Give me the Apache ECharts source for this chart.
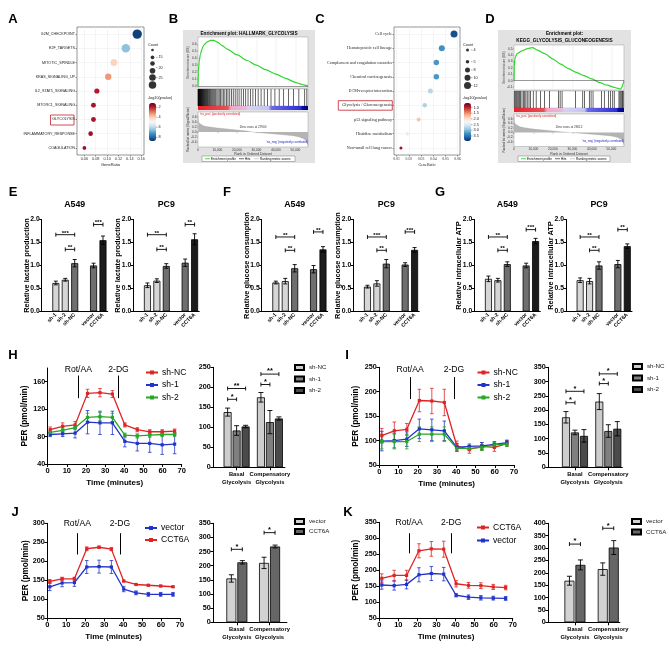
<!DOCTYPE html>
<html>
<head>
<meta charset="utf-8">
<script src="https://cdn.jsdelivr.net/npm/echarts@6.0.0/dist/echarts.min.js"></script>
<style>
html,body{margin:0;padding:0;background:#fff;}
#chart{width:669px;height:658px;}
</style>
</head>
<body>
<div id="chart"></div>
<script>
/* ======================= DATA ======================= */
// Panel A - Hallmark dot plot
const A_terms = ['G2M_CHECKPOINT','E2F_TARGETS','MITOTIC_SPINDLE','KRAS_SIGNALING_UP','IL2_STAT5_SIGNALING','MTORC1_SIGNALING','GLYCOLYSIS','INFLAMMATORY_RESPONSE','COAGULATION'];
const A_geneRatio = [0.153,0.133,0.112,0.102,0.082,0.076,0.076,0.071,0.060];
const A_count = [28,25,20,18,14,13,13,12,9];
const A_logP = [8.5,6.5,4.1,3.3,1.9,1.8,1.8,1.7,1.6];
const A_xTicks = [0.06,0.08,0.10,0.12,0.14,0.16];
const A_cbTicks = [2,4,6,8];
const A_countCircles = [8,12,16,20,24,28];
const A_countLabels = [15,20,25];

// Panel C - KEGG dot plot
const C_terms = ['Cell cycle','Hematopoietic cell lineage','Complement and coagulation cascades','Chemical carcinogenesis','ECM-receptor interaction','Glycolysis / Gluconeogenesis','p53 signaling pathway','Histidine metabolism','Non-small cell lung cancer'];
const C_geneRatio = [0.057,0.047,0.0425,0.0425,0.0376,0.033,0.028,0.0187,0.0135];
const C_count = [12,10,9,9,8,7,6,5,4];
const C_logP = [3.75,3.3,3.25,3.25,2.75,2.8,1.8,2.45,0.85];
const C_xTicks = [0.01,0.02,0.03,0.04,0.05,0.06];
const C_cbTicks = [1.0,1.5,2.0,2.5,3.0,3.5];
const C_countLegend = [4,5,8,10,12];

// Panels B / D - GSEA
const RANK_MAX = 56500;
const RANK_TICKS = [0,10000,20000,30000,40000,50000];
const B_esRank = [0,200,600,1200,2000,3000,4500,6500,8000,10000,12500,15000,20000,25000,30000,35000,40000,45000,50000,53000,55000,56500];
const B_esVal  = [0,0.2,0.35,0.45,0.53,0.59,0.63,0.655,0.655,0.63,0.58,0.53,0.45,0.37,0.30,0.23,0.17,0.11,0.05,0.025,0.01,0];
const B_hits = [60,150,260,380,500,640,780,930,1080,1240,1400,1570,1750,1930,2120,2320,2530,2750,2980,3220,3470,3730,4000,4280,4570,4870,5200,5550,5900,6300,6700,7150,7600,8100,8600,9100,9700,10300,10900,11600,12300,13000,13800,14600,15400,16300,17200,18100,19100,20100,21100,22200,23300,24500,25700,26900,28200,29500,30900,32400,34000,35700,37500,39500,41700,44000,46500,49000,51800,54800,55900];
const B_metricRank = [0,200,600,1500,3000,6000,10000,15000,20000,25000,27900,32000,38000,44000,49000,52000,54500,55800,56500];
const B_metricVal  = [0.7,0.45,0.35,0.28,0.24,0.2,0.16,0.12,0.08,0.04,0,-0.03,-0.07,-0.11,-0.15,-0.2,-0.28,-0.38,-0.55];
const D_esRank = [0,150,400,800,1500,2500,3500,5000,6500,8000,9500,12000,16000,20000,24000,28000,32000,36000,40000,44000,48000,51000,53500,54800,55500,56000,56500];
const D_esVal  = [0,0.22,0.33,0.38,0.42,0.44,0.46,0.48,0.50,0.51,0.52,0.48,0.42,0.34,0.26,0.19,0.13,0.08,0.03,-0.03,-0.07,-0.1,-0.12,-0.13,-0.1,-0.05,0];
const D_hits = [340,680,1200,1700,2400,2900,3400,4100,4800,5500,6100,6800,7700,8500,9900,11400,13600,15700,18300,22900,23700,24700,31600,35300,36200,38700,39600,40600,45000,46400,48500,49500,50700,51500,53900,54400,54900,55400,55800,56100];
const D_metricRank = [0,150,500,1500,3000,6000,10000,15000,20000,25000,29000,34000,40000,46000,50000,53000,55000,56000,56500];
const D_metricVal  = [0.75,0.5,0.38,0.3,0.25,0.2,0.15,0.11,0.07,0.03,0,-0.03,-0.07,-0.11,-0.15,-0.2,-0.28,-0.4,-0.55];

// Panels E / F / G - bar charts
const EFG_groups = ['sh-1','sh-2','sh-NC','vector','CCT6A'];
const E_A549 = [0.62,0.69,1.05,1.00,1.55];
const E_A549_err = [0.04,0.03,0.08,0.05,0.09];
const E_A549_sig = ['***','**','***'];
const E_A549_sigY = [1.67,1.35,1.89];
const E_PC9 = [0.57,0.67,0.99,1.06,1.57];
const E_PC9_err = [0.05,0.04,0.05,0.08,0.12];
const E_PC9_sig = ['**','**','**'];
const E_PC9_sigY = [1.67,1.35,1.89];
const F_A549 = [0.63,0.66,0.94,0.92,1.35];
const F_A549_err = [0.03,0.06,0.08,0.08,0.06];
const F_A549_sig = ['**','**','**'];
const F_A549_sigY = [1.62,1.33,1.73];
const F_PC9 = [0.54,0.61,1.04,1.02,1.34];
const F_PC9_err = [0.03,0.06,0.09,0.04,0.05];
const F_PC9_sig = ['***','**','***'];
const F_PC9_sigY = [1.62,1.33,1.73];
const G_A549 = [0.71,0.68,1.03,1.00,1.53];
const G_A549_err = [0.06,0.04,0.05,0.05,0.06];
const G_A549_sig = ['**','**','***'];
const G_A549_sigY = [1.62,1.33,1.78];
const G_PC9 = [0.68,0.66,1.00,1.03,1.42];
const G_PC9_err = [0.05,0.06,0.08,0.08,0.05];
const G_PC9_sig = ['**','**','**'];
const G_PC9_sigY = [1.62,1.33,1.78];

// Panels H-K - Seahorse PER
const SH_time = [1.3,7.8,14.3,20.8,27.3,33.8,40.3,46.8,53.3,59.8,66.3];
const SH_groups = ['Basal\nGlycolysis','Compensatory\nGlycolysis'];
const H_shNC = [90,95,97,143,144,142,97,90,87,87,88];
const H_shNC_err = [4,5,5,6,6,5,3,3,3,3,3];
const H_sh1 = [83,84,85,101,100,100,73,70,70,68,69];
const H_sh1_err = [3,4,7,17,17,17,8,11,13,14,14];
const H_sh2 = [86,89,93,108,109,108,82,81,82,83,83];
const H_sh2_err = [2,3,3,6,6,6,3,3,3,3,3];
const H_bar_shNC = [138,175], H_bar_shNC_err = [10,12];
const H_bar_sh1 = [92,113], H_bar_sh1_err = [12,29];
const H_bar_sh2 = [102,122], H_bar_sh2_err = [3,4];
const H_sig = ['*','**','*','**'];
const H_sigY = [170,197,207,233];

const I_shNC = [110,120,123,182,181,178,89,82,88,86,94];
const I_shNC_err = [15,18,12,23,26,27,10,8,8,8,6];
const I_sh1 = [99,100,103,124,122,120,86,88,89,92,96];
const I_sh1_err = [20,15,15,20,22,20,8,5,7,6,5];
const I_sh2 = [98,98,98,113,113,113,84,84,86,91,93];
const I_sh2_err = [15,15,15,15,15,15,6,5,6,5,5];
const I_bar_shNC = [175,230], I_bar_shNC_err = [20,28];
const I_bar_sh1 = [122,127], I_bar_sh1_err = [8,22];
const I_bar_sh2 = [110,135], I_bar_sh2_err = [22,25];
const I_sig = ['*','*','*','*'];
const I_sigY = [226,266,293,327];

const J_vector = [133,143,144,185,186,185,127,117,113,113,113];
const J_vector_err = [10,10,10,17,17,17,7,5,5,5,5];
const J_CCT6A = [147,154,154,233,237,232,148,139,137,135,133];
const J_CCT6A_err = [5,4,4,5,3,4,2,2,2,2,2];
const J_bar_vector = [155,210], J_bar_vector_err = [13,20];
const J_bar_CCT6A = [212,268], J_bar_CCT6A_err = [6,5];
const J_sig = ['*','*'];
const J_sigY = [258,317];

const K_CCT6A = [175,184,184,261,267,266,158,153,152,148,146];
const K_CCT6A_err = [14,16,16,22,23,25,10,9,9,8,7];
const K_vector = [154,152,156,186,190,188,122,116,114,113,112];
const K_vector_err = [13,14,14,22,22,21,5,7,7,6,6];
const K_bar_vector = [168,215], K_bar_vector_err = [18,25];
const K_bar_CCT6A = [232,302], K_bar_CCT6A_err = [20,28];
const K_sig = ['*','*'];
const K_sigY = [316,380];

/* ======================= BUILD ======================= */
const FONTF = '"Liberation Sans", Arial, Helvetica, sans-serif';
const SERIF = '"Liberation Serif", "Times New Roman", serif';
const RDBU = ['#67001f','#b2182b','#d6604d','#f4a582','#fddbc7','#f7f7f7','#d1e5f0','#92c5de','#4393c3','#2166ac','#053061'];
const RED = '#e02424', BLUE = '#2233cc', GREEN = '#25a825';

const option = {animation:false, backgroundColor:'#ffffff', textStyle:{fontFamily:FONTF},
  grid:[], xAxis:[], yAxis:[], series:[], legend:[], visualMap:[], graphic:{elements:[]}};
const GR = option.graphic.elements;

function addGrid(g, xa, ya){
  const gi = option.grid.length;
  option.grid.push(Object.assign({containLabel:false, outerBoundsMode:'none'}, g));
  option.xAxis.push(Object.assign({gridIndex:gi, nameMoveOverlap:false}, xa));
  option.yAxis.push(Object.assign({gridIndex:gi, nameMoveOverlap:false}, ya));
  return {g:gi, x:option.xAxis.length-1, y:option.yAxis.length-1};
}
function addXAxis(ax, xa){ option.xAxis.push(Object.assign({gridIndex:ax.g, nameMoveOverlap:false}, xa)); return option.xAxis.length-1; }
function addSeries(s, ax){ s.xAxisIndex = ax.x; s.yAxisIndex = ax.y; option.series.push(s); return option.series.length-1; }
function txt(x, y, text, o){
  o = o || {};
  GR.push({type:'text', x:x, y:y, rotation:o.rot||0, silent:true, z:o.z||50,
    style:{text:text, fill:o.color||'#000', font:(o.bold?'bold ':'')+(o.size||8)+'px '+(o.family||FONTF),
      textAlign:o.align||'center', textVerticalAlign:o.va||'middle'}});
}
function lineEl(x1,y1,x2,y2,color,w){ GR.push({type:'line', silent:true, z:50, shape:{x1,y1,x2,y2}, style:{stroke:color||'#000', lineWidth:w||0.5}}); }

function errRender(color, capHalf, lw, offFn){
  return function(params, api){
    const x = api.value(0), y = api.value(1), e = api.value(2);
    const off = offFn ? offFn(api.value(3)) : 0;
    const p1 = api.coord([x, y+e]), p2 = api.coord([x, y-e]);
    const cx = p1[0] + off;
    const st = () => ({stroke:color, lineWidth:lw});
    return {type:'group', children:[
      {type:'line', shape:{x1:cx, y1:p1[1], x2:cx, y2:p2[1]}, style:st()},
      {type:'line', shape:{x1:cx-capHalf, y1:p1[1], x2:cx+capHalf, y2:p1[1]}, style:st()},
      {type:'line', shape:{x1:cx-capHalf, y1:p2[1], x2:cx+capHalf, y2:p2[1]}, style:st()}
    ]};
  };
}
function bracketShape(x1, x2, y, label, fs){
  const s = () => ({stroke:'#000', lineWidth:0.9});
  return {type:'group', children:[
    {type:'line', shape:{x1:x1, y1:y, x2:x2, y2:y}, style:s()},
    {type:'line', shape:{x1:x1, y1:y-2, x2:x1, y2:y+2}, style:s()},
    {type:'line', shape:{x1:x2, y1:y-2, x2:x2, y2:y+2}, style:s()},
    {type:'text', style:{text:label, x:(x1+x2)/2, y:y+1.2, textAlign:'center', textVerticalAlign:'bottom', font:'bold '+fs+'px '+FONTF, fill:'#000'}}
  ]};
}

/* ---------- enrichment dot plots (A, C) ---------- */
function dotPlot(c){
  const ax = addGrid({left:c.left, top:27, width:c.width, height:128, show:true, borderColor:'#4d4d4d', borderWidth:0.6, backgroundColor:'#fff'},
    {type:'value', min:c.xmin, max:c.xmax, axisLine:{show:false},
     axisTick:{show:true, customValues:c.xTicks, length:1.5, lineStyle:{color:'#333', width:0.5}},
     axisLabel:{customValues:c.xTicks, formatter:v=>v.toFixed(2), fontSize:3.8, color:'#333', margin:2, fontFamily:c.font, showMinLabel:true, showMaxLabel:true, hideOverlap:false},
     splitLine:{show:false}, name:'GeneRatio', nameLocation:'middle', nameGap:8, nameTextStyle:{fontSize:4, color:'#222', fontFamily:c.font}},
    {type:'category', data:c.terms, inverse:true, axisLine:{show:false},
     axisTick:{show:true, alignWithLabel:true, length:1.5, lineStyle:{color:'#333', width:0.5}},
     axisLabel:{interval:0, fontSize:c.labelSize, color:'#222', margin:2, fontFamily:c.font}, splitLine:{show:false}});
  addSeries({type:'scatter', data:[], silent:true, z:1,
    markLine:{silent:true, symbol:'none', z:1, animation:false, label:{show:false},
      lineStyle:{color:'#ebebeb', width:0.5, type:'solid'},
      data:[...c.terms.map((t,i)=>({yAxis:i})), ...c.xTicks.map(v=>({xAxis:v}))]}}, ax);
  const si = addSeries({type:'scatter', z:5, data:c.terms.map((t,i)=>[c.ratio[i], i, c.count[i], c.logP[i]]),
    symbolSize:v=>c.size(v[2]), itemStyle:{opacity:1}}, ax);
  option.visualMap.push({type:'continuous', seriesIndex:si, dimension:3, min:c.vmin, max:c.vmax, inverse:true,
    calculable:false, show:true, left:c.cbLeft, top:103, itemWidth:7, itemHeight:38, padding:0,
    inRange:{color:RDBU}, hoverLink:false});
  const cbY = v => 103 + (v - c.vmin)/(c.vmax - c.vmin)*38;
  c.cbTicks.forEach(v=>{
    lineEl(c.cbLeft+7, cbY(v), c.cbLeft+8.5, cbY(v), '#333', 0.4);
    txt(c.cbLeft+9.5, cbY(v), c.cbFmt(v), {size:3.8, align:'left', color:'#222'});
  });
  txt(c.cbLeft-1, 98, '-log10(pvalue)', {size:3.8, align:'left', color:'#222'});
  txt(c.cbLeft-1, 44.5, 'Count', {size:3.8, align:'left', color:'#222'});
  c.countLegend(c);
  GR.push({type:'rect', silent:true, z:60, shape:c.box, style:{fill:'none', stroke:'#c0202a', lineWidth:0.8}});
}

dotPlot({left:77, width:67, xmin:0.047, xmax:0.165, xTicks:A_xTicks, terms:A_terms, ratio:A_geneRatio,
  count:A_count, logP:A_logP, size:n=>1+n*0.3, vmin:1.15, vmax:8.75, cbLeft:149, cbTicks:A_cbTicks,
  cbFmt:v=>String(v), font:FONTF, labelSize:3.7,
  box:{x:50.5, y:115, width:23.5, height:10},
  countLegend:function(c){
    const ys = [50,57.3,63.5,70.7,77.5,85];
    A_countCircles.forEach((n,k)=>GR.push({type:'circle', silent:true, z:50, shape:{cx:152.5, cy:ys[k], r:c.size(n)/2*0.8}, style:{fill:'#333'}}));
    const ly = [57.3,67.5,77.5];
    A_countLabels.forEach((n,k)=>{ lineEl(156,ly[k],157.5,ly[k],'#333',0.4); txt(158.5, ly[k], String(n), {size:3.8, align:'left', color:'#222'}); });
  }});

dotPlot({left:394, width:66, xmin:0.0078, xmax:0.0619, xTicks:C_xTicks, terms:C_terms, ratio:C_geneRatio,
  count:C_count, logP:C_logP, size:n=>1+n*0.5, vmin:0.6, vmax:3.95, cbLeft:464, cbTicks:C_cbTicks,
  cbFmt:v=>v.toFixed(1), font:SERIF, labelSize:4.2,
  box:{x:338.3, y:100.7, width:54, height:9.5},
  countLegend:function(c){
    const ys = [50,61.7,70,77.7,85.5];
    C_countLegend.forEach((n,k)=>{
      GR.push({type:'circle', silent:true, z:50, shape:{cx:467.5, cy:ys[k], r:c.size(n)/2}, style:{fill:'#333'}});
      lineEl(471,ys[k],472.5,ys[k],'#333',0.4);
      txt(473.5, ys[k], String(n), {size:3.8, align:'left', color:'#222'});
    });
  }});

/* ---------- GSEA plots (B, D) ---------- */
function gsea(c){
  GR.push({type:'rect', silent:true, z:-5, shape:{x:c.fx, y:c.fy, width:c.fw, height:c.fh}, style:{fill:'#e2e2e2'}});
  c.title.forEach((t,k)=>txt(c.fx+c.fw/2, c.titleY+k*7, t, {size:4.7, bold:true}));
  const tl = {fontSize:3.2, color:'#333', margin:1.5, fontFamily:FONTF, showMinLabel:true, showMaxLabel:true, hideOverlap:false};
  const a1 = addGrid({left:c.left, top:c.esTop, width:c.width, height:c.esH, show:true, backgroundColor:'#fff', borderColor:'#888', borderWidth:0.4},
    {type:'value', min:0, max:RANK_MAX, interval:10000, axisLine:{show:false}, axisTick:{show:false}, axisLabel:{show:false},
     splitLine:{show:true, lineStyle:{color:'#dedede', width:0.4}}},
    {type:'value', min:c.esMin, max:c.esMax, axisLine:{show:false},
     axisTick:{show:true, customValues:c.esTicks, length:1.2, lineStyle:{color:'#555', width:0.4}},
     axisLabel:Object.assign({customValues:c.esTicks, formatter:v=>v.toFixed(1)}, tl), splitLine:{show:false},
     name:'Enrichment score (ES)', nameLocation:'middle', nameGap:8, nameTextStyle:{fontSize:3.2, color:'#333'}});
  addSeries({type:'line', data:c.esRank.map((r,i)=>[r, c.esVal[i]]), symbol:'none', smooth:0.25, smoothMonotone:'x',
    lineStyle:{color:'#2fd42f', width:1.2}, z:3,
    markLine:{silent:true, symbol:'none', label:{show:false}, lineStyle:{color:'#333', width:0.5, type:'solid'}, data:[{yAxis:0}]}}, a1);
  const a2 = addGrid({left:c.left, top:c.hitTop, width:c.width, height:c.hitH, show:true, backgroundColor:'#fff', borderColor:'#888', borderWidth:0.4},
    {type:'value', min:0, max:RANK_MAX, show:false}, {type:'value', min:0, max:1, show:false});
  addSeries({type:'scatter', data:c.hits.map(r=>[r,0.5]), symbol:'rect', symbolSize:[0.75, c.hitH], itemStyle:{color:'#000'}, silent:true}, a2);
  GR.push({type:'rect', silent:true, z:40, shape:{x:c.left, y:c.hitTop+c.hitH, width:c.width, height:4},
    style:{fill:{type:'linear', x:0, y:0, x2:1, y2:0, colorStops:[
      {offset:0, color:'#e8202a'},{offset:0.27, color:'#e8505a'},{offset:0.3, color:'#f0a8c4'},{offset:0.43, color:'#eab6d8'},
      {offset:0.46, color:'#d6d2f2'},{offset:0.64, color:'#c4c4f2'},{offset:0.67, color:'#6868e8'},{offset:0.93, color:'#3030d8'},
      {offset:0.95, color:'#0a0aa0'},{offset:1, color:'#00007a'}]}}});
  const a3 = addGrid({left:c.left, top:c.mTop, width:c.width, height:c.mH, show:true, backgroundColor:'#fff', borderColor:'#888', borderWidth:0.4},
    {type:'value', min:0, max:RANK_MAX, axisLine:{show:false},
     axisTick:{show:true, customValues:RANK_TICKS, length:1.2, lineStyle:{color:'#555', width:0.4}},
     axisLabel:Object.assign({customValues:RANK_TICKS, formatter:v=>v.toLocaleString('en-US')}, tl), splitLine:{show:false},
     name:'Rank in Ordered Dataset', nameLocation:'middle', nameGap:6, nameTextStyle:{fontSize:3.4, color:'#333'}},
    {type:'value', min:-0.6, max:0.8, axisLine:{show:false},
     axisTick:{show:true, customValues:[-0.4,-0.2,0,0.2,0.4,0.6], length:1.2, lineStyle:{color:'#555', width:0.4}},
     axisLabel:Object.assign({customValues:[-0.4,-0.2,0,0.2,0.4,0.6], formatter:v=>v.toFixed(1)}, tl), splitLine:{show:false},
     name:'Ranked list metric (Signal2Noise)', nameLocation:'middle', nameGap:8, nameTextStyle:{fontSize:3, color:'#333'}});
  addSeries({type:'line', data:c.mRank.map((r,i)=>[r, c.mVal[i]]), symbol:'none', lineStyle:{color:'#999', width:0.3},
    areaStyle:{color:'#b4b4b4', opacity:1, origin:0}, silent:true}, a3);
  txt(c.left+2, c.mTop+1.8, "'na_pos' (positively correlated)", {size:3, align:'left', color:'#e02020'});
  txt(c.left+c.width*0.5, c.mTop+c.mH*0.42, 'Zero cross at '+c.zero, {size:3, color:'#333'});
  txt(c.left+c.width*0.62, c.mTop+c.mH*0.85, "'na_neg' (negatively correlated)", {size:3, align:'left', color:'#2020c0'});
  GR.push({type:'rect', silent:true, z:45, shape:c.legBox, style:{fill:'#fff', stroke:'#555', lineWidth:0.4}});
  const ly = c.legBox.y + c.legBox.height/2, lx = c.legBox.x;
  lineEl(lx+3, ly, lx+8, ly, '#2fd42f', 0.9); txt(lx+9, ly, 'Enrichment profile', {size:3.1, align:'left'});
  lineEl(lx+37, ly, lx+42, ly, '#000', 0.6); txt(lx+43, ly, 'Hits', {size:3.1, align:'left'});
  lineEl(lx+52, ly, lx+57, ly, '#aaa', 0.6); txt(lx+58, ly, 'Ranking metric scores', {size:3.1, align:'left'});
}
gsea({fx:183, fy:30, fw:132, fh:133, title:['Enrichment plot: HALLMARK_GLYCOLYSIS'], titleY:33.5,
  left:198, width:110, esTop:37, esH:51, esMin:-0.03, esMax:0.705, esTicks:[0,0.1,0.2,0.3,0.4,0.5,0.6],
  esRank:B_esRank, esVal:B_esVal, hitTop:89, hitH:17, hits:B_hits, mTop:112, mH:35,
  mRank:B_metricRank, mVal:B_metricVal, zero:'27900', legBox:{x:202, y:156, width:93, height:5.5}});
gsea({fx:498, fy:30, fw:133, fh:133, title:['Enrichment plot:','KEGG_GLYCOLYSIS_GLUCONEOGENESIS'], titleY:33.5,
  left:514, width:110, esTop:45, esH:45, esMin:-0.145, esMax:0.56, esTicks:[-0.1,0,0.1,0.2,0.3,0.4,0.5],
  esRank:D_esRank, esVal:D_esVal, hitTop:91, hitH:17, hits:D_hits, mTop:114, mH:32.5,
  mRank:D_metricRank, mVal:D_metricVal, zero:'29012', legBox:{x:518, y:156, width:92, height:5.5}});

/* ---------- E / F / G bar charts ---------- */
const EFG_cats = [' ','sh-1','sh-2','sh-NC','  ','vector','CCT6A'];
const EFG_pos = [1,2,3,5,6];
const EFG_colors = ['#d6d6d6','#d6d6d6','#6f6f6f','#6f6f6f','#1c1c1c'];
function efg(c){
  const ax = addGrid({left:c.left, top:219.5, width:66, height:92},
    {type:'category', data:EFG_cats,
     axisLine:{lineStyle:{color:'#000', width:1}},
     axisTick:{alignWithLabel:true, length:2.5, interval:(i,v)=>String(v).trim()!=='', lineStyle:{color:'#000', width:1}},
     axisLabel:{interval:0, rotate:45, fontSize:5.3, fontWeight:'bold', color:'#000', margin:2.5, fontFamily:FONTF}},
    {type:'value', min:0, max:2, interval:0.5,
     axisLine:{show:true, lineStyle:{color:'#000', width:1}},
     axisTick:{show:true, length:2.5, lineStyle:{color:'#000', width:1}},
     axisLabel:{formatter:v=>v.toFixed(1), fontSize:6.8, fontWeight:'bold', color:'#000', margin:2, fontFamily:FONTF},
     splitLine:{show:false}, name:c.ylabel, nameLocation:'middle', nameGap:11.5,
     nameTextStyle:{fontSize:7.4, fontWeight:'bold', color:'#000', fontFamily:FONTF}});
  addSeries({type:'bar', barWidth:7, z:2,
    data:EFG_cats.map((cat,ci)=>{ const k = EFG_pos.indexOf(ci); return k<0 ? '-' : {value:c.vals[k], itemStyle:{color:EFG_colors[k]}}; }),
    itemStyle:{borderColor:'#000', borderWidth:0.8}}, ax);
  addSeries({type:'custom', z:3, renderItem:errRender('#000', 2, 0.9),
    data:EFG_pos.map((p,k)=>[p, c.vals[k], c.errs[k]])}, ax);
  const pairs = [[1,3],[2,3],[5,6]];
  addSeries({type:'custom', z:4, encode:{x:[0,1], y:2},
    renderItem:(params, api)=>{ const h = api.value(2); const a = api.coord([api.value(0), h]), b = api.coord([api.value(1), h]);
      return bracketShape(a[0], b[0], a[1], c.sig[params.dataIndex], 6); },
    data:pairs.map((p,k)=>[p[0], p[1], c.sigY[k]])}, ax);
  txt(c.left+33, 205, c.title, {size:8.8, bold:true});
}
efg({left:41.7, title:'A549', vals:E_A549, errs:E_A549_err, sig:E_A549_sig, sigY:E_A549_sigY, ylabel:'Relative lactate production'});
efg({left:133.3, title:'PC9', vals:E_PC9, errs:E_PC9_err, sig:E_PC9_sig, sigY:E_PC9_sigY, ylabel:'Relative lactate production'});
efg({left:261.7, title:'A549', vals:F_A549, errs:F_A549_err, sig:F_A549_sig, sigY:F_A549_sigY, ylabel:'Relative glucose consumption'});
efg({left:353.3, title:'PC9', vals:F_PC9, errs:F_PC9_err, sig:F_PC9_sig, sigY:F_PC9_sigY, ylabel:'Relative glucose consumption'});
efg({left:474.3, title:'A549', vals:G_A549, errs:G_A549_err, sig:G_A549_sig, sigY:G_A549_sigY, ylabel:'Relative intracellular ATP'});
efg({left:566, title:'PC9', vals:G_PC9, errs:G_PC9_err, sig:G_PC9_sig, sigY:G_PC9_sigY, ylabel:'Relative intracellular ATP'});

/* ---------- Seahorse line charts ---------- */
const axBlack = {lineStyle:{color:'#000', width:1}};
function shLine(c){
  const ax = addGrid({left:c.left, top:c.top, width:c.width, height:c.height},
    {type:'value', min:0, max:70, interval:10, axisLine:axBlack, axisTick:{length:3, lineStyle:{color:'#000', width:1}},
     axisLabel:{fontSize:7.5, fontWeight:'bold', color:'#000', margin:2.5, fontFamily:FONTF, showMinLabel:true, showMaxLabel:true}, splitLine:{show:false},
     name:'Time (minutes)', nameLocation:'middle', nameGap:14.5, nameTextStyle:{fontSize:8, fontWeight:'bold', color:'#000', fontFamily:FONTF}},
    {type:'value', min:c.ymin, max:c.ymax, axisLine:Object.assign({show:true}, axBlack),
     axisTick:{show:true, customValues:c.yTicks, length:3, lineStyle:{color:'#000', width:1}},
     axisLabel:{customValues:c.yTicks, fontSize:7.2, fontWeight:'bold', color:'#000', margin:2.5, fontFamily:FONTF, showMinLabel:true, showMaxLabel:true, hideOverlap:false}, splitLine:{show:false},
     name:'PER (pmol/min)', nameLocation:'middle', nameGap:c.nameGap, nameTextStyle:{fontSize:8.2, fontWeight:'bold', color:'#000', fontFamily:FONTF}});
  c.lines.forEach((l, k)=>{
    addSeries({type:'custom', z:2, silent:true, renderItem:errRender(l.color, 1.8, 0.8),
      data:SH_time.map((t,i)=>[t, l.vals[i], l.errs[i]])}, ax);
    const s = {type:'line', name:c.key+'|'+l.name, data:SH_time.map((t,i)=>[t, l.vals[i]]), symbol:'rect', symbolSize:3.2,
      lineStyle:{color:l.color, width:1.3}, itemStyle:{color:l.color}, z:3};
    if (k === 0) {
      s.markLine = {silent:true, symbol:['none','arrow'], symbolSize:[0,5], precision:2,
        lineStyle:{color:'#000', width:1, type:'solid'},
        label:{show:true, position:'start', formatter:p=>p.name, fontSize:8.6, color:'#000', distance:c.arrowGap, fontFamily:FONTF},
        data:c.arrows.map(a=>[{name:a.label, coord:[a.t, a.from]}, {coord:[a.t, a.to]}])};
    }
    addSeries(s, ax);
  });
  option.legend.push({data:c.legendOrder.map(n=>c.key+'|'+n), left:c.legLeft, top:c.legTop, orient:'vertical', padding:0,
    itemGap:c.legGap, itemWidth:12, itemHeight:5, selectedMode:false, formatter:n=>n.split('|')[1],
    textStyle:{fontSize:8.6, color:'#000', fontFamily:FONTF, lineHeight:10, padding:[0,0,0,-1]}});
}
shLine({key:'H', left:47.7, top:368, width:134, height:96, ymin:40, ymax:180, yTicks:[40,80,120,160], nameGap:18.5,
  lines:[{name:'sh-NC', color:RED, vals:H_shNC, errs:H_shNC_err},{name:'sh-1', color:BLUE, vals:H_sh1, errs:H_sh1_err},{name:'sh-2', color:GREEN, vals:H_sh2, errs:H_sh2_err}],
  arrows:[{label:'Rot/AA', t:16, from:169, to:136},{label:'2-DG', t:37, from:169, to:136}], arrowGap:1.5,
  legendOrder:['sh-NC','sh-1','sh-2'], legLeft:145, legTop:367.5, legGap:2.5});
shLine({key:'I', left:379.3, top:367.3, width:134.7, height:97.7, ymin:50, ymax:250, yTicks:[50,100,150,200,250], nameGap:20,
  lines:[{name:'sh-NC', color:RED, vals:I_shNC, errs:I_shNC_err},{name:'sh-1', color:BLUE, vals:I_sh1, errs:I_sh1_err},{name:'sh-2', color:GREEN, vals:I_sh2, errs:I_sh2_err}],
  arrows:[{label:'Rot/AA', t:16, from:230, to:185},{label:'2-DG', t:38.8, from:230, to:185}], arrowGap:3,
  legendOrder:['sh-NC','sh-1','sh-2'], legLeft:476.5, legTop:367.5, legGap:2.5});
shLine({key:'J', left:47.3, top:523.3, width:132.7, height:95, ymin:50, ymax:300, yTicks:[50,100,150,200,250,300], nameGap:18,
  lines:[{name:'vector', color:BLUE, vals:J_vector, errs:J_vector_err},{name:'CCT6A', color:RED, vals:J_CCT6A, errs:J_CCT6A_err}],
  arrows:[{label:'Rot/AA', t:15.8, from:274, to:218},{label:'2-DG', t:38.3, from:274, to:218}], arrowGap:5.5,
  legendOrder:['vector','CCT6A'], legLeft:144, legTop:523, legGap:2});
shLine({key:'K', left:379.3, top:522.3, width:133.4, height:96, ymin:50, ymax:350, yTicks:[50,100,150,200,250,300,350], nameGap:20,
  lines:[{name:'CCT6A', color:RED, vals:K_CCT6A, errs:K_CCT6A_err},{name:'vector', color:BLUE, vals:K_vector, errs:K_vector_err}],
  arrows:[{label:'Rot/AA', t:15.7, from:316, to:253},{label:'2-DG', t:37.7, from:316, to:253}], arrowGap:6.5,
  legendOrder:['CCT6A','vector'], legLeft:476, legTop:522.5, legGap:3});

/* ---------- Seahorse bar charts ---------- */
function shBar(c){
  const lab = v => ({customValues:[v], formatter:x=>SH_groups[Math.round(x)-1], fontSize:5.8, fontWeight:'bold', color:'#000',
       lineHeight:8, margin:3.5, fontFamily:FONTF, showMinLabel:true, showMaxLabel:true, hideOverlap:false});
  const ax = addGrid({left:c.left, top:c.top, width:c.width, height:c.height},
    {type:'value', position:'bottom', min:c.xmin, max:c.xmax, axisLine:axBlack,
     axisTick:{show:true, customValues:[1,2], length:3, lineStyle:{color:'#000', width:1}},
     axisLabel:lab(1), splitLine:{show:false}},
    {type:'value', min:0, max:c.ymax, interval:c.yint, axisLine:Object.assign({show:true}, axBlack),
     axisTick:{show:true, length:3, lineStyle:{color:'#000', width:1}},
     axisLabel:{fontSize:7.2, fontWeight:'bold', color:'#000', margin:2.5, fontFamily:FONTF, showMinLabel:true, showMaxLabel:true}, splitLine:{show:false}});
  // second bottom axis in the same grid carrying the second group label
  addXAxis(ax, {type:'value', position:'bottom', min:c.xmin, max:c.xmax, axisLine:{show:false}, axisTick:{show:false},
     axisLabel:lab(2), splitLine:{show:false}});
  const n = c.bars.length, w = c.barW, gap = c.gap;
  const off = i => -((n*w + (n-1)*gap)/2) + w/2 + i*(w+gap);
  c.bars.forEach((b,i)=>{
    addSeries({type:'bar', name:c.key+'|'+b.name, data:[[1,b.vals[0]],[2,b.vals[1]]], barWidth:w, barGap:(gap/w*100)+'%', z:2,
      itemStyle:{color:b.color, borderColor:'#000', borderWidth:0.8}}, ax);
  });
  const ed = [];
  c.bars.forEach((b,i)=>{ ed.push([1, b.vals[0], b.errs[0], i]); ed.push([2, b.vals[1], b.errs[1], i]); });
  addSeries({type:'custom', z:3, silent:true, renderItem:errRender('#000', 2.5, 0.9, off), data:ed}, ax);
  addSeries({type:'custom', z:4, silent:true, encode:{x:0, y:3},
    renderItem:(params, api)=>{ const g = api.value(0), h = api.value(3); const p = api.coord([g, h]);
      return bracketShape(p[0]+off(api.value(1)), p[0]+off(api.value(2)), p[1], c.sig[params.dataIndex], 7.5); },
    data:c.brackets.map((br,k)=>[br[0], br[1], br[2], c.sigY[k]])}, ax);
  option.legend.push({data:c.bars.map(b=>c.key+'|'+b.name), left:c.legLeft, top:c.legTop, orient:'vertical', padding:0,
    itemGap:c.legGap, itemWidth:9, itemHeight:5, icon:'rect', selectedMode:false, formatter:nm=>nm.split('|')[1],
    textStyle:{fontSize:6.2, color:'#222', fontFamily:FONTF, lineHeight:7}});
}
shBar({key:'Hb', left:213.3, top:367.3, width:71.6, height:100, xmin:0.3, xmax:2.45, ymax:250, yint:50, barW:8, gap:1,
  bars:[{name:'sh-NC', color:'#cdcdcd', vals:H_bar_shNC, errs:H_bar_shNC_err},{name:'sh-1', color:'#7f7f7f', vals:H_bar_sh1, errs:H_bar_sh1_err},{name:'sh-2', color:'#4a4a4a', vals:H_bar_sh2, errs:H_bar_sh2_err}],
  brackets:[[1,0,1],[1,0,2],[2,0,1],[2,0,2]], sig:H_sig, sigY:H_sigY, legLeft:294, legTop:364, legGap:4.5});
shBar({key:'Ib', left:548.3, top:367.3, width:74, height:100, xmin:0.2, xmax:2.42, ymax:350, yint:50, barW:8, gap:1,
  bars:[{name:'sh-NC', color:'#cdcdcd', vals:I_bar_shNC, errs:I_bar_shNC_err},{name:'sh-1', color:'#7f7f7f', vals:I_bar_sh1, errs:I_bar_sh1_err},{name:'sh-2', color:'#4a4a4a', vals:I_bar_sh2, errs:I_bar_sh2_err}],
  brackets:[[1,0,1],[1,0,2],[2,0,1],[2,0,2]], sig:I_sig, sigY:I_sigY, legLeft:632, legTop:363, legGap:4.5});
shBar({key:'Jb', left:213.3, top:523.3, width:73.6, height:99, xmin:0.28, xmax:2.53, ymax:350, yint:50, barW:10, gap:1,
  bars:[{name:'vector', color:'#d2d2d2', vals:J_bar_vector, errs:J_bar_vector_err},{name:'CCT6A', color:'#666666', vals:J_bar_CCT6A, errs:J_bar_CCT6A_err}],
  brackets:[[1,0,1],[2,0,1]], sig:J_sig, sigY:J_sigY, legLeft:294, legTop:518, legGap:3});
shBar({key:'Kb', left:548.3, top:523.3, width:71.6, height:99, xmin:0.2, xmax:2.35, ymax:400, yint:50, barW:10, gap:1,
  bars:[{name:'vector', color:'#d2d2d2', vals:K_bar_vector, errs:K_bar_vector_err},{name:'CCT6A', color:'#666666', vals:K_bar_CCT6A, errs:K_bar_CCT6A_err}],
  brackets:[[1,0,1],[2,0,1]], sig:K_sig, sigY:K_sigY, legLeft:631, legTop:518, legGap:3.5});

/* ---------- panel letters ---------- */
[['A',13,19],['B',173.5,19],['C',320,19],['D',490,19],['E',13,192],['F',227,192],['G',440,192],
 ['H',13,355],['I',347,355],['J',15,512],['K',348,512]].forEach(l=>txt(l[1], l[2], l[0], {size:13, bold:true}));

const chart = echarts.init(document.getElementById('chart'), null, {renderer:'canvas'});
chart.setOption(option);
</script>
</body>
</html>
